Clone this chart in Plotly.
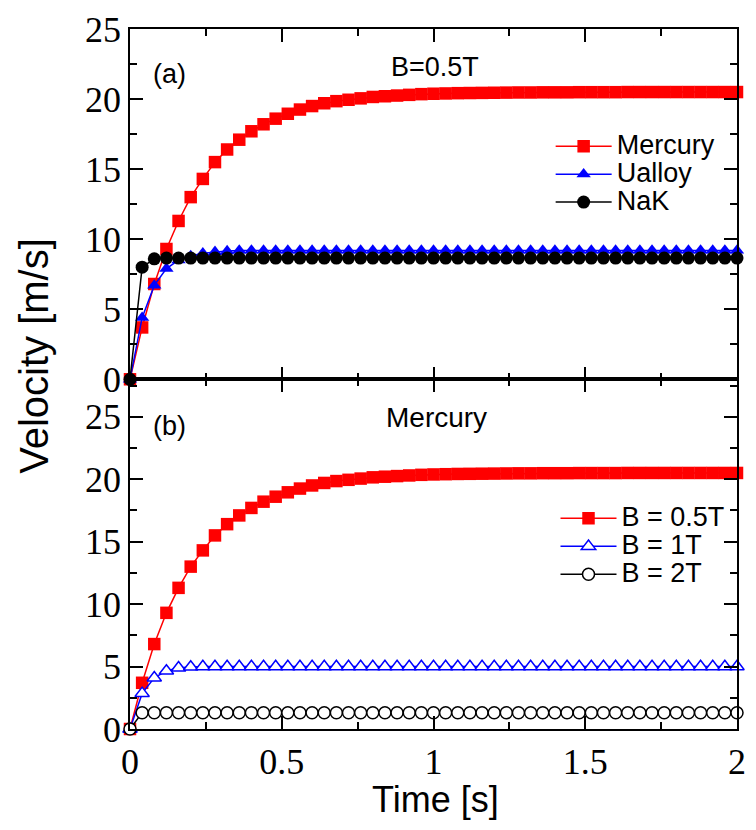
import plotly.graph_objects as go

# ---------------- data ----------------
time_s = [0.00, 0.04, 0.08, 0.12, 0.16, 0.20, 0.24, 0.28, 0.32, 0.36,
          0.40, 0.44, 0.48, 0.52, 0.56, 0.60, 0.64, 0.68, 0.72, 0.76,
          0.80, 0.84, 0.88, 0.92, 0.96, 1.00, 1.04, 1.08, 1.12, 1.16,
          1.20, 1.24, 1.28, 1.32, 1.36, 1.40, 1.44, 1.48, 1.52, 1.56,
          1.60, 1.64, 1.68, 1.72, 1.76, 1.80, 1.84, 1.88, 1.92, 1.96, 2.00]

mercury = [0.0, 3.7, 6.8, 9.3, 11.3, 13.0, 14.3, 15.5, 16.4, 17.1,
           17.7, 18.2, 18.6, 18.95, 19.25, 19.5, 19.7, 19.85, 19.95, 20.05,
           20.15, 20.2, 20.25, 20.3, 20.35, 20.38, 20.4, 20.42, 20.43, 20.44,
           20.45, 20.46, 20.47, 20.47, 20.48, 20.48, 20.48, 20.49, 20.49, 20.49,
           20.49, 20.5, 20.5, 20.5, 20.5, 20.5, 20.5, 20.5, 20.5, 20.5, 20.5]

ualloy = [0.0, 4.4, 6.7, 7.9, 8.5, 8.8, 9.0, 9.1, 9.15, 9.2,
          9.2, 9.2, 9.2, 9.2, 9.2, 9.2, 9.2, 9.2, 9.2, 9.2,
          9.2, 9.2, 9.2, 9.2, 9.2, 9.2, 9.2, 9.2, 9.2, 9.2,
          9.2, 9.2, 9.2, 9.2, 9.2, 9.2, 9.2, 9.2, 9.2, 9.2,
          9.2, 9.2, 9.2, 9.2, 9.2, 9.2, 9.2, 9.2, 9.2, 9.2, 9.2]

nak = [0.0, 8.0, 8.6, 8.65, 8.65, 8.65, 8.65, 8.65, 8.65, 8.65,
       8.65, 8.65, 8.65, 8.65, 8.65, 8.65, 8.65, 8.65, 8.65, 8.65,
       8.65, 8.65, 8.65, 8.65, 8.65, 8.65, 8.65, 8.65, 8.65, 8.65,
       8.65, 8.65, 8.65, 8.65, 8.65, 8.65, 8.65, 8.65, 8.65, 8.65,
       8.65, 8.65, 8.65, 8.65, 8.65, 8.65, 8.65, 8.65, 8.65, 8.65, 8.65]

b_1t = [0.0, 2.85, 4.1, 4.65, 4.9, 4.97, 5.0, 5.0, 5.0, 5.0,
        5.0, 5.0, 5.0, 5.0, 5.0, 5.0, 5.0, 5.0, 5.0, 5.0,
        5.0, 5.0, 5.0, 5.0, 5.0, 5.0, 5.0, 5.0, 5.0, 5.0,
        5.0, 5.0, 5.0, 5.0, 5.0, 5.0, 5.0, 5.0, 5.0, 5.0,
        5.0, 5.0, 5.0, 5.0, 5.0, 5.0, 5.0, 5.0, 5.0, 5.0, 5.0]

b_2t = [0.0, 1.3, 1.3, 1.3, 1.3, 1.3, 1.3, 1.3, 1.3, 1.3,
        1.3, 1.3, 1.3, 1.3, 1.3, 1.3, 1.3, 1.3, 1.3, 1.3,
        1.3, 1.3, 1.3, 1.3, 1.3, 1.3, 1.3, 1.3, 1.3, 1.3,
        1.3, 1.3, 1.3, 1.3, 1.3, 1.3, 1.3, 1.3, 1.3, 1.3,
        1.3, 1.3, 1.3, 1.3, 1.3, 1.3, 1.3, 1.3, 1.3, 1.3, 1.3]

x_ticks = [0, 0.5, 1, 1.5, 2]
y_ticks = [0, 5, 10, 15, 20, 25]

# ---------------- styling ----------------
RED = "#ff0000"
BLUE = "#0000ff"
BLACK = "#000000"
SANS = "Liberation Sans, Arial, sans-serif"
SERIF = "Liberation Serif"
LEG_FS = 19.2


def lname(txt):
    return "<span style='font-size:27px'>%s</span>" % txt


fig = go.Figure()

# (a) panel
fig.add_trace(go.Scatter(x=time_s, y=mercury, xaxis="x", yaxis="y", name=lname("Mercury"),
                         mode="lines+markers", line=dict(color=RED, width=1.5),
                         marker=dict(symbol="square", size=12.5, color=RED),
                         cliponaxis=False, legend="legend"))
fig.add_trace(go.Scatter(x=time_s, y=ualloy, xaxis="x", yaxis="y", name=lname("Ualloy"),
                         mode="lines+markers", line=dict(color=BLUE, width=1.5),
                         marker=dict(symbol="triangle-up", size=12.5, color=BLUE),
                         cliponaxis=False, legend="legend"))
fig.add_trace(go.Scatter(x=time_s, y=nak, xaxis="x", yaxis="y", name=lname("NaK"),
                         mode="lines+markers", line=dict(color=BLACK, width=1.5),
                         marker=dict(symbol="circle", size=13, color=BLACK),
                         cliponaxis=False, legend="legend"))

# (b) panel
fig.add_trace(go.Scatter(x=time_s, y=mercury, xaxis="x2", yaxis="y2", name=lname("B = 0.5T"),
                         mode="lines+markers", line=dict(color=RED, width=1.5),
                         marker=dict(symbol="square", size=12.5, color=RED),
                         cliponaxis=False, legend="legend2"))
fig.add_trace(go.Scatter(x=time_s, y=b_1t, xaxis="x2", yaxis="y2", name=lname("B = 1T"),
                         mode="lines+markers", line=dict(color=BLUE, width=1.5),
                         marker=dict(symbol="triangle-up", size=12.5, color="white",
                                     line=dict(color=BLUE, width=1.5)),
                         cliponaxis=False, legend="legend2"))
fig.add_trace(go.Scatter(x=time_s, y=b_2t, xaxis="x2", yaxis="y2", name=lname("B = 2T"),
                         mode="lines+markers", line=dict(color=BLACK, width=1.5),
                         marker=dict(symbol="circle", size=12, color="white",
                                     line=dict(color=BLACK, width=1.5)),
                         cliponaxis=False, legend="legend2"))

axis_common = dict(showline=True, linecolor=BLACK, linewidth=1.5, mirror="ticks",
                   ticks="inside", ticklen=13, tickwidth=1.5, tickcolor=BLACK,
                   showgrid=False, zeroline=False,
                   tickfont=dict(family=SERIF, size=36, color=BLACK))

fig.update_layout(
    width=756, height=830,
    margin=dict(l=130, r=10, t=24, b=100.5),
    paper_bgcolor="white", plot_bgcolor="white",
    font=dict(family=SANS, color=BLACK),
    xaxis=dict(axis_common, domain=[0, 1], anchor="y", range=[0, 2], tickvals=x_ticks,
               showticklabels=False,
               minor=dict(ticks="inside", ticklen=7, dtick=0.25, tickwidth=1.5, tickcolor=BLACK, showgrid=False)),
    xaxis2=dict(axis_common, domain=[0, 1], anchor="y2", range=[0, 2], tickvals=x_ticks,
                matches="x",
                minor=dict(ticks="inside", ticklen=7, dtick=0.25, tickwidth=1.5, tickcolor=BLACK, showgrid=False)),
    yaxis=dict(axis_common, domain=[0.4996, 1], anchor="x", range=[0, 25], tickvals=y_ticks,
               minor=dict(ticks="inside", ticklen=7, dtick=2.5, tickwidth=1.5, tickcolor=BLACK, showgrid=False)),
    yaxis2=dict(axis_common, domain=[0, 0.4996], anchor="x2", range=[0, 28], tickvals=y_ticks,
                minor=dict(ticks="inside", ticklen=7, dtick=2.5, tickwidth=1.5, tickcolor=BLACK, showgrid=False)),
    legend=dict(x=0.693, y=0.8597, xanchor="left", yanchor="top", itemwidth=56,
                font=dict(family=SANS, size=LEG_FS, color=BLACK), bgcolor="rgba(0,0,0,0)",
                tracegroupgap=0),
    legend2=dict(x=0.701, y=0.3281, xanchor="left", yanchor="top", itemwidth=56,
                 font=dict(family=SANS, size=LEG_FS, color=BLACK), bgcolor="rgba(0,0,0,0)",
                 tracegroupgap=0),
    showlegend=True,
)

annots = [
    dict(text="(a)", x=0.0649, y=0.9362, size=27),
    dict(text="B=0.5T", x=0.503, y=0.9461, size=27),
    dict(text="(b)", x=0.0649, y=0.4330, size=27),
    dict(text="Mercury", x=0.505, y=0.4444, size=28),
    dict(text="Time [s]", x=0.503, y=-0.1013, size=36),
]
for a in annots:
    fig.add_annotation(text=a["text"], x=a["x"], y=a["y"], xref="paper", yref="paper",
                       xanchor="center", yanchor="middle", showarrow=False,
                       font=dict(family=SANS, size=a["size"], color=BLACK))
fig.add_annotation(text="Velocity [m/s]", x=-0.1575, y=0.5337, xref="paper", yref="paper",
                   xanchor="center", yanchor="middle", showarrow=False, textangle=-90,
                   font=dict(family=SANS, size=40, color=BLACK))

fig.write_html("out.html")
